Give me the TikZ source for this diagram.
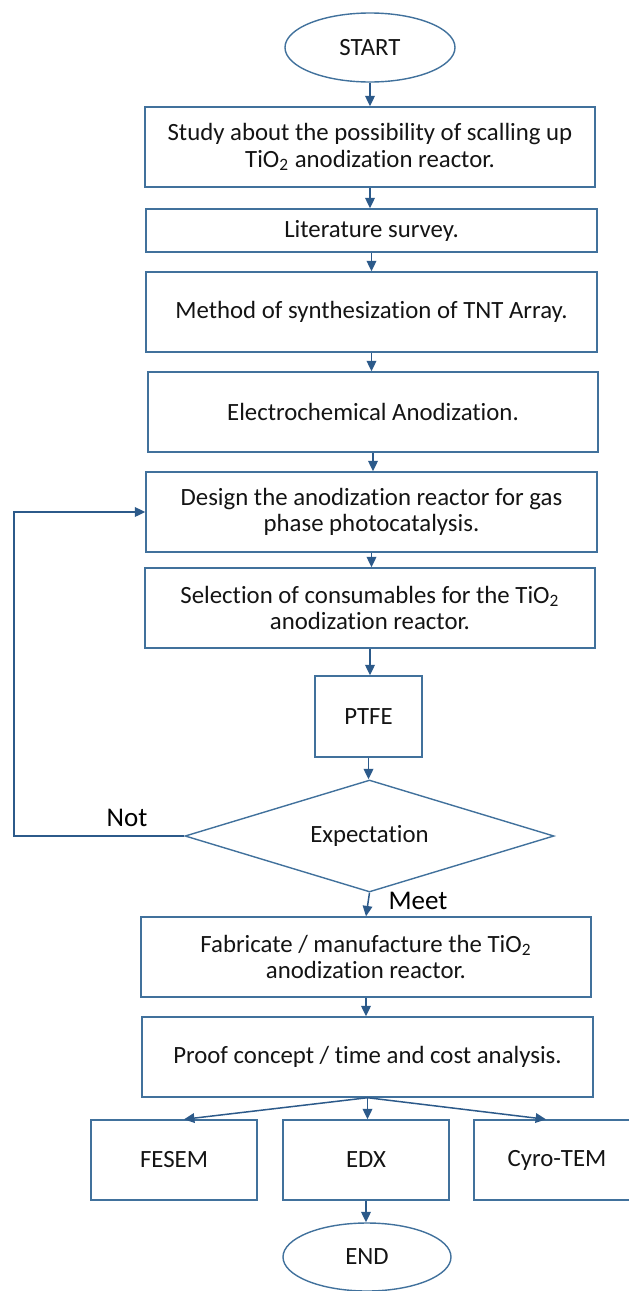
\documentclass[tikz,border=0pt]{standalone}
\usepackage{fontspec}
\setmainfont{Carlito}[Ligatures=NoCommon]
\usetikzlibrary{shapes.geometric,arrows.meta,calc}
\definecolor{bordc}{HTML}{41719C}
\definecolor{arrc}{HTML}{2C5A8A}
\definecolor{txtc}{HTML}{141414}
\begin{document}
\begin{tikzpicture}[x=0.5pt,y=-0.5pt,
  box/.style={draw=bordc,line width=0.7pt,rectangle,inner sep=1pt,align=center,text=txtc,
    font=\fontsize{12.4pt}{13.3pt}\selectfont,minimum height=40pt},
  oval/.style={draw=bordc,line width=0.7pt,ellipse,inner sep=0pt,text=txtc,
    font=\fontsize{12.4pt}{13.3pt}\selectfont},
  dec/.style={draw=bordc,line width=0.7pt,diamond,inner sep=0pt,aspect=3.3,text=txtc,
    font=\fontsize{12.4pt}{13.3pt}\selectfont},
  arr/.style={draw=arrc,line width=0.75pt,-{Triangle[length=5.2pt,width=4.8pt]}},
  lbl/.style={text=black,font=\fontsize{13.5pt}{15pt}\selectfont,inner sep=0pt}]
\useasboundingbox (0,0) rectangle (628,1291);
\node[oval,minimum width=85pt,minimum height=34.5pt] (start) at (370,47.5) {START};
\node[box,minimum width=225pt] (b1) at (370,147) {Study about the possibility of scalling up\\TiO\textsubscript{2} anodization reactor.};
\node[box,minimum width=225.5pt,minimum height=21.5pt] (lit) at (371.5,230.5) {Literature survey.};
\node[box,minimum width=225.5pt] (meth) at (371.5,312) {Method of synthesization of TNT Array.};
\node[box,minimum width=225pt] (elec) at (373,412) {Electrochemical Anodization.};
\node[box,minimum width=225.5pt] (design) at (371.5,512) {Design the anodization reactor for gas\\phase photocatalysis.};
\node[box,minimum width=225pt] (sel) at (370,608) {Selection of consumables for the TiO\textsubscript{2}\\anodization reactor.};
\node[box,minimum width=53.5pt,minimum height=40.5pt] (ptfe) at (368.5,716.5) {PTFE};
\node[dec,minimum width=184.5pt,minimum height=56pt] (exp) at (369.5,836) {Expectation};
\node[box,minimum width=225pt] (fab) at (366,957) {Fabricate / manufacture the TiO\textsubscript{2}\\anodization reactor.};
\node[box,minimum width=225.5pt] (proof) at (367.5,1057) {Proof concept / time and cost analysis.};
\node[box,minimum width=83pt] (fesem) at (174,1160) {FESEM};
\node[box,minimum width=83pt] (edx) at (366,1160) {EDX};
\node[box,minimum width=83pt] (cyro) at (557,1160) {Cyro-TEM};
\node[oval,minimum width=84pt,minimum height=34pt] (end) at (367,1257) {END};
\node[lbl] (not) at (127,818) {Not};
\node[lbl] (meet) at (418,901) {Meet};
\coordinate (loop) at (14,836);
\draw[arr] (start) -- (start |- b1.north);
\draw[arr] (b1) -- (b1 |- lit.north);
\draw[arr] (lit) -- (lit |- meth.north);
\draw[arr] (meth) -- (meth |- elec.north);
\draw[arr] (elec) -- (elec |- design.north);
\draw[arr] (design) -- (design |- sel.north);
\draw[arr] (sel) -- (sel |- ptfe.north);
\draw[arr] (ptfe) -- (ptfe |- exp.north);
\draw[arr] (exp.south) -- (fab.north);
\draw[arr] (fab) -- (fab |- proof.north);
\draw[arr] (proof.south) -- ($(fesem.north)+(10,0)$);
\draw[arr] (proof) -- (proof |- edx.north);
\draw[arr] (proof.south) -- ($(cyro.north)+(-11,0)$);
\draw[arr] (edx) -- (edx |- end.north);
\draw[arr] (exp.west) -- (loop) |- (design.west);
\end{tikzpicture}
\end{document}
